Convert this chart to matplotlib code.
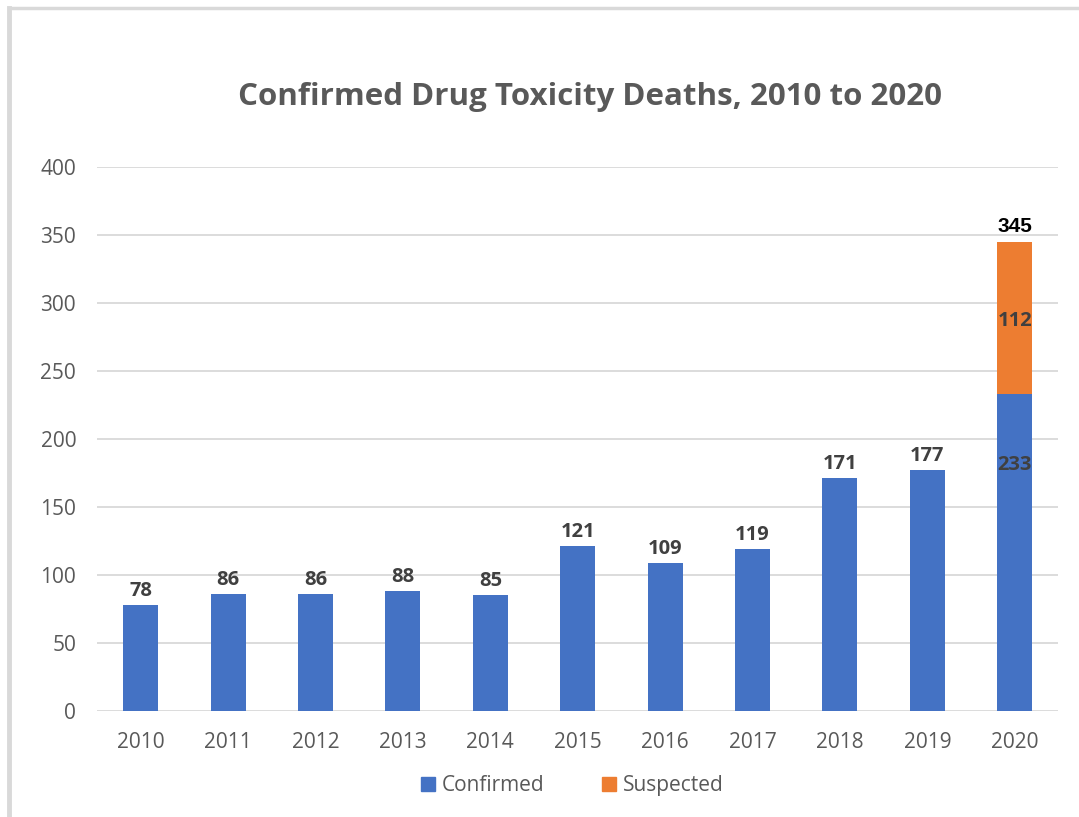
import matplotlib.pyplot as plt
from matplotlib.lines import Line2D
from matplotlib.patches import Patch

years = ["2010", "2011", "2012", "2013", "2014", "2015", "2016", "2017", "2018", "2019", "2020"]
confirmed = [78, 86, 86, 88, 85, 121, 109, 119, 171, 177, 233]
suspected = [0, 0, 0, 0, 0, 0, 0, 0, 0, 0, 112]
total_2020 = 345

blue = "#4472C4"
orange = "#ED7D31"
grey_txt = "#595959"
label_txt = "#404040"

plt.rcParams["font.family"] = ["Open Sans", "DejaVu Sans"]

fig = plt.figure(figsize=(10.79, 8.17), dpi=100)
ax = fig.add_axes([0.0899, 0.1297, 0.8911, 0.6659])

x = list(range(len(years)))
ax.bar(x, confirmed, width=0.4, color=blue, zorder=2)
ax.bar(x[-1], suspected[-1], width=0.4, bottom=confirmed[-1], color=orange, zorder=2)

# data labels
for i, v in enumerate(confirmed[:-1]):
    ax.text(i, v + 3, str(v), ha="center", va="bottom", fontsize=14.5,
            fontweight="bold", color=label_txt)
ax.text(x[-1], 181, str(confirmed[-1]), ha="center", va="center", fontsize=14.5,
        fontweight="bold", color=label_txt)
ax.text(x[-1], 287, str(suspected[-1]), ha="center",
        va="center", fontsize=14.5, fontweight="bold", color=label_txt)
ax.text(x[-1], total_2020 + 4, str(total_2020), ha="center", va="bottom", fontsize=15,
        fontweight="bold", color="black", family=["Liberation Sans"])

ax.set_xlim(-0.5, len(years) - 0.5)
ax.set_ylim(0, 400)
ax.set_yticks(range(0, 401, 50))
ax.set_xticks(x)
ax.set_xticklabels(years)
ax.tick_params(axis="both", length=0, labelsize=15, colors=grey_txt)
ax.tick_params(axis="y", pad=15)
ax.tick_params(axis="x", pad=15)
ax.grid(axis="y", color="#D9D9D9", linewidth=1.3, zorder=0)
for s in ax.spines.values():
    s.set_visible(False)

fig.text(0.547, 0.881, "Confirmed Drug Toxicity Deaths, 2010 to 2020", ha="center",
         va="center", fontsize=22.5, fontweight="bold", color=grey_txt)

handles = [Patch(color=blue, label="Confirmed"), Patch(color=orange, label="Suspected")]
fig.legend(handles=handles, loc="center", bbox_to_anchor=(0.5305, 0.038), ncol=2,
           frameon=False, fontsize=15, labelcolor=grey_txt, handlelength=0.65,
           handleheight=0.65, columnspacing=2.75, handletextpad=0.35)

# outer chart frame (top and left edges visible)
fig.add_artist(Line2D([0.0083, 1.0], [0.9896, 0.9896], color="#D9D9D9", linewidth=2.5,
                      transform=fig.transFigure))
fig.add_artist(Line2D([0.0083, 0.0083], [0.0, 0.9896], color="#D9D9D9", linewidth=3.5,
                      transform=fig.transFigure))

fig.savefig("out.png", dpi=100)
